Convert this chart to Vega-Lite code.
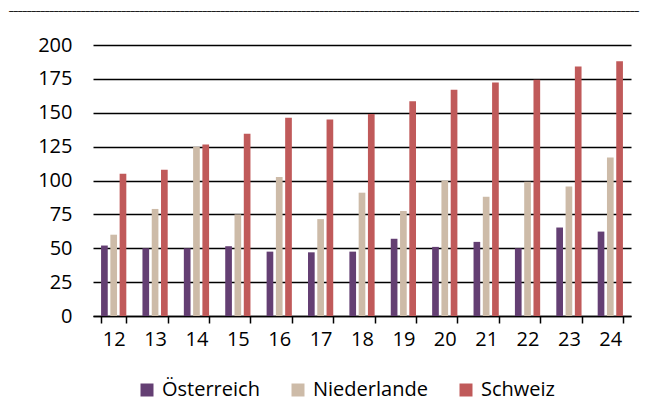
{
  "$schema": "https://vega.github.io/schema/vega-lite/v6.json",
  "width": 538,
  "height": 271,
  "autosize": "none",
  "padding": {"left": 93, "top": 45, "right": 20, "bottom": 85},
  "background": "white",
  "title": {
    "text": "____________________________________________________________________________________________________________________________________________",
    "font": "DejaVu Sans",
    "fontSize": 9,
    "fontWeight": "bold",
    "color": "#000000",
    "anchor": "start",
    "frame": "group",
    "dx": -84,
    "offset": 23
  },
  "data": {
    "values": [
      {"jahr": "12", "land": "Österreich", "wert": 52},
      {"jahr": "12", "land": "Niederlande", "wert": 60},
      {"jahr": "12", "land": "Schweiz", "wert": 105},
      {"jahr": "13", "land": "Österreich", "wert": 50},
      {"jahr": "13", "land": "Niederlande", "wert": 79},
      {"jahr": "13", "land": "Schweiz", "wert": 108},
      {"jahr": "14", "land": "Österreich", "wert": 50},
      {"jahr": "14", "land": "Niederlande", "wert": 125},
      {"jahr": "14", "land": "Schweiz", "wert": 126.5},
      {"jahr": "15", "land": "Österreich", "wert": 51.5},
      {"jahr": "15", "land": "Niederlande", "wert": 75},
      {"jahr": "15", "land": "Schweiz", "wert": 134.5},
      {"jahr": "16", "land": "Österreich", "wert": 47.5},
      {"jahr": "16", "land": "Niederlande", "wert": 102.5},
      {"jahr": "16", "land": "Schweiz", "wert": 146.3},
      {"jahr": "17", "land": "Österreich", "wert": 47},
      {"jahr": "17", "land": "Niederlande", "wert": 71.5},
      {"jahr": "17", "land": "Schweiz", "wert": 145},
      {"jahr": "18", "land": "Österreich", "wert": 47.5},
      {"jahr": "18", "land": "Niederlande", "wert": 91},
      {"jahr": "18", "land": "Schweiz", "wert": 149},
      {"jahr": "19", "land": "Österreich", "wert": 57},
      {"jahr": "19", "land": "Niederlande", "wert": 77.5},
      {"jahr": "19", "land": "Schweiz", "wert": 158.4},
      {"jahr": "20", "land": "Österreich", "wert": 51},
      {"jahr": "20", "land": "Niederlande", "wert": 100},
      {"jahr": "20", "land": "Schweiz", "wert": 167},
      {"jahr": "21", "land": "Österreich", "wert": 54.7},
      {"jahr": "21", "land": "Niederlande", "wert": 88},
      {"jahr": "21", "land": "Schweiz", "wert": 172.4},
      {"jahr": "22", "land": "Österreich", "wert": 50},
      {"jahr": "22", "land": "Niederlande", "wert": 99},
      {"jahr": "22", "land": "Schweiz", "wert": 174.4},
      {"jahr": "23", "land": "Österreich", "wert": 65.3},
      {"jahr": "23", "land": "Niederlande", "wert": 95.6},
      {"jahr": "23", "land": "Schweiz", "wert": 184.2},
      {"jahr": "24", "land": "Österreich", "wert": 62.3},
      {"jahr": "24", "land": "Niederlande", "wert": 117},
      {"jahr": "24", "land": "Schweiz", "wert": 188}
    ]
  },
  "mark": {"type": "bar"},
  "encoding": {
    "x": {
      "field": "jahr",
      "type": "nominal",
      "title": null,
      "scale": {"paddingInner": 0.39, "paddingOuter": 0.195},
      "axis": {
        "labelAngle": 0,
        "tickBand": "extent",
        "tickColor": "black",
        "tickWidth": 1.5,
        "tickSize": 7,
        "domainColor": "black",
        "domainWidth": 1.5,
        "labelPadding": 6,
        "grid": false
      }
    },
    "xOffset": {
      "field": "land",
      "type": "nominal",
      "sort": ["Österreich", "Niederlande", "Schweiz"],
      "scale": {"paddingInner": 0.28, "paddingOuter": 0}
    },
    "y": {
      "field": "wert",
      "type": "quantitative",
      "title": null,
      "scale": {"domain": [0, 200], "nice": false},
      "axis": {
        "values": [0, 25, 50, 75, 100, 125, 150, 175, 200],
        "domain": false,
        "ticks": false,
        "labelPadding": 21,
        "grid": true,
        "gridColor": "black",
        "gridWidth": 1.6,
        "gridOpacity": 1
      }
    },
    "color": {
      "field": "land",
      "type": "nominal",
      "title": null,
      "sort": ["Österreich", "Niederlande", "Schweiz"],
      "scale": {
        "domain": ["Österreich", "Niederlande", "Schweiz"],
        "range": ["#643f73", "#cdbba8", "#c05a5a"]
      },
      "legend": {
        "orient": "none",
        "direction": "horizontal",
        "legendX": 44,
        "legendY": 335,
        "symbolType": "square",
        "symbolSize": 169,
        "symbolStrokeWidth": 0,
        "symbolOpacity": 1,
        "labelFontSize": 20,
        "labelFont": "Open Sans",
        "labelColor": "black",
        "labelOffset": 5,
        "columnPadding": 28
      }
    }
  },
  "config": {
    "view": {"stroke": null},
    "axis": {
      "labelFont": "Open Sans",
      "labelFontSize": 20,
      "labelColor": "black"
    }
  }
}
